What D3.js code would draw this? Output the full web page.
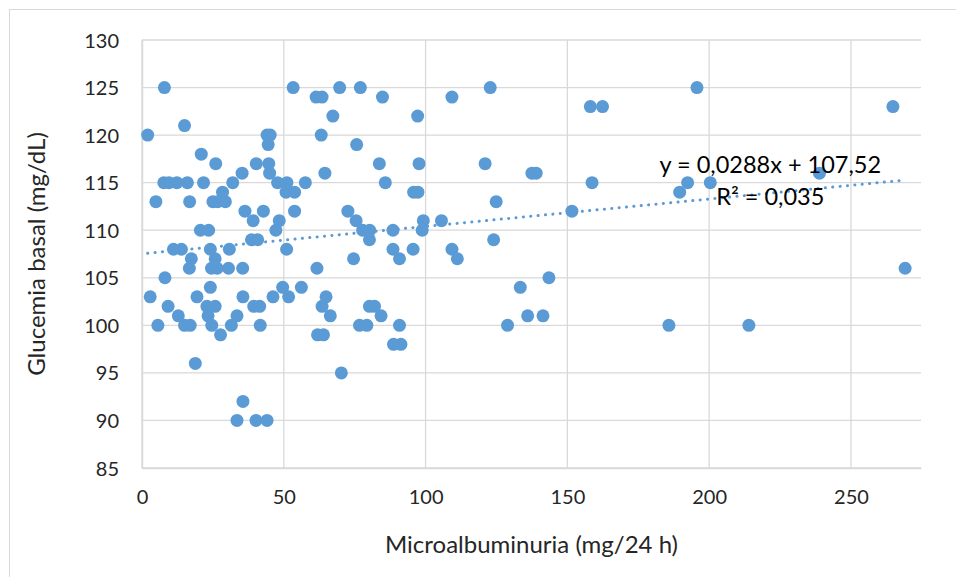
<!DOCTYPE html>
<html>
<head>
<meta charset="utf-8">
<style>
  body { margin: 0; background: #fff; }
  svg { display: block; font-family: Lato, "Open Sans", sans-serif; }
</style>
</head>
<body>
<svg width="956" height="577"></svg>
<script src="https://d3js.org/d3.v7.min.js"></script>
<script>
// microalbuminuria (mg/24 h) grouped by glucemia basal (mg/dL)
var glucoseLevels = [125, 124, 123, 122, 121, 120, 119, 118, 117, 116, 115, 114, 113, 112, 111,
                     110, 109, 108, 107, 106, 105, 104, 103, 102, 101, 100, 99, 98, 96, 95, 92, 90];
var albuminByLevel = [
  [7.9, 53.3, 69.7, 77, 122.8, 195.7],
  [61.4, 63.5, 84.8, 109.3],
  [158.1, 162.4, 264.8],
  [67.3, 97.2],
  [15.0],
  [2.0, 44.1, 45.2, 63.2],
  [44.5, 75.7],
  [20.9],
  [26.0, 40.3, 44.7, 83.7, 97.7, 121.0],
  [35.3, 45.0, 64.5, 137.5, 139, 238.9],
  [7.7, 9.5, 12.3, 16.0, 21.7, 32.0, 47.8, 51.1, 57.6, 85.8, 158.7, 192.4, 200.4],
  [28.4, 50.8, 53.8, 95.8, 97.3, 189.6],
  [4.9, 16.8, 25.0, 26.7, 29.4, 124.9],
  [36.3, 42.8, 53.8, 72.6, 151.6],
  [39.2, 48.4, 75.5, 99.2, 105.6],
  [20.6, 23.5, 47.2, 77.8, 80.3, 88.5, 98.8],
  [38.6, 40.8, 80.2, 124.0],
  [11.1, 13.9, 24.1, 30.8, 51.0, 88.5, 95.6, 109.3],
  [17.4, 25.8, 74.6, 90.8, 111.2],
  [16.7, 24.5, 26.5, 30.5, 35.5, 61.7, 269.1],
  [8.1, 143.5],
  [24.1, 49.6, 56.2, 133.4],
  [2.9, 19.4, 35.6, 46.2, 51.7, 64.9],
  [9.2, 22.9, 25.8, 39.4, 41.5, 63.5, 80.2, 82.0],
  [12.8, 23.3, 33.5, 66.4, 84.3, 136.0, 141.4],
  [5.6, 15.0, 17.0, 24.6, 31.5, 41.7, 76.7, 79.3, 90.8, 128.9, 185.8, 214.0],
  [27.7, 61.9, 64.0],
  [88.7, 91.3],
  [18.8],
  [70.3],
  [35.6],
  [33.5, 40.2, 44.1]
];
var xTicks = [0, 50, 100, 150, 200, 250];
var yTicks = [85, 90, 95, 100, 105, 110, 115, 120, 125, 130];
var slope = 0.0288, intercept = 107.52;
var eqLabel = "y = 0,0288x + 107,52";
var r2Label = "R² = 0,035";

var svg = d3.select("svg"),
    margin = {top: 40, right: 35, bottom: 109, left: 142},
    width = +svg.attr("width") - margin.left - margin.right,
    height = +svg.attr("height") - margin.top - margin.bottom;

var blue = "#5B9BD5", grid = "#D9D9D9";

// chart frame
svg.append("rect")
    .attr("x", 9.5).attr("y", 9.5)
    .attr("width", 1000).attr("height", 1000)
    .attr("fill", "none")
    .attr("stroke", "#D9D9D9");

var g = svg.append("g").attr("transform", "translate(" + margin.left + "," + margin.top + ")");

var points = [];
glucoseLevels.forEach(function(gl, i) {
  albuminByLevel[i].forEach(function(a) { points.push({x: a, y: gl}); });
});

var x = d3.scaleLinear().domain([0, 274.7]).range([0, width]);
var y = d3.scaleLinear().domain([85, 130]).range([height, 0]);

// grid
g.append("g")
    .selectAll("line.h")
    .data(yTicks)
    .enter().append("line")
      .attr("x1", 0).attr("x2", width)
      .attr("y1", function(d) { return y(d); })
      .attr("y2", function(d) { return y(d); })
      .attr("stroke", grid).attr("stroke-width", 1.3);

g.append("g")
    .selectAll("line.v")
    .data(xTicks)
    .enter().append("line")
      .attr("y1", 0).attr("y2", height)
      .attr("x1", function(d) { return x(d); })
      .attr("x2", function(d) { return x(d); })
      .attr("stroke", grid).attr("stroke-width", 1.3);

// axes (labels only)
var xAxis = g.append("g")
    .attr("transform", "translate(0," + height + ")")
    .call(d3.axisBottom(x).tickValues(xTicks).tickSize(0).tickPadding(22));
var yAxis = g.append("g")
    .call(d3.axisLeft(y).tickValues(yTicks).tickSize(0).tickPadding(23));
[xAxis, yAxis].forEach(function(a) {
  a.select(".domain").attr("stroke", grid).attr("stroke-width", 1.5);
  a.selectAll("text").attr("font-size", 20).attr("fill", "#262626")
    .attr("font-family", "Lato, sans-serif");
});
yAxis.selectAll("text").attr("dy", "0.35em");

// points
g.append("g")
  .selectAll("circle")
  .data(points)
  .enter().append("circle")
    .attr("cx", function(d) { return x(d.x); })
    .attr("cy", function(d) { return y(d.y); })
    .attr("r", 6.5)
    .attr("fill", blue);

// linear trendline
var xr = d3.extent(points, function(d) { return d.x; });
g.append("line")
    .attr("x1", x(xr[0])).attr("y1", y(slope * xr[0] + intercept))
    .attr("x2", x(xr[1])).attr("y2", y(slope * xr[1] + intercept))
    .attr("stroke", blue)
    .attr("stroke-width", 3)
    .attr("stroke-linecap", "round")
    .attr("stroke-dasharray", "0.1 7.3");

// equation
g.append("text")
    .attr("x", x(182.5)).attr("y", y(116.0))
    .attr("font-size", 23.5).attr("fill", "#000")
    .text(eqLabel);
g.append("text")
    .attr("x", x(202.5)).attr("y", y(112.65))
    .attr("font-size", 23.5).attr("fill", "#000")
    .text(r2Label);

// titles
svg.append("text")
    .attr("x", margin.left + width / 2).attr("y", 553)
    .attr("text-anchor", "middle")
    .attr("font-size", 24).attr("fill", "#262626")
    .text("Microalbuminuria (mg/24 h)");
svg.append("text")
    .attr("transform", "translate(45," + (margin.top + height / 2) + ") rotate(-90)")
    .attr("text-anchor", "middle")
    .attr("font-size", 24).attr("fill", "#262626")
    .text("Glucemia basal (mg/dL)");
</script>
</body>
</html>
